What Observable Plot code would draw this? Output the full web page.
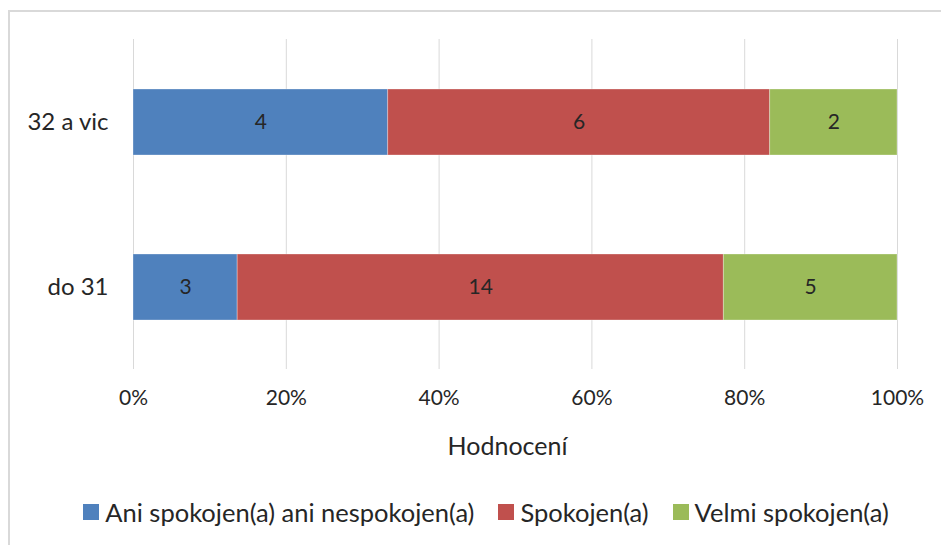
<!DOCTYPE html>
<html>
<head>
<meta charset="utf-8">
<script src="https://cdn.jsdelivr.net/npm/d3@7"></script>
<script src="https://cdn.jsdelivr.net/npm/@observablehq/plot@0.6"></script>
<style>
  html, body { margin: 0; padding: 0; background: #fff; overflow: hidden; }
  #wrap { position: relative; width: 941px; height: 545px; font-family: "Lato", sans-serif; color: #262626; }
  #border { position: absolute; left: 8px; top: 10px; width: 1000px; height: 600px; border-left: 2px solid #d9d9d9; border-top: 2px solid #d9d9d9; }
  #chart { position: absolute; left: 0; top: 0; }
  #legend { position: absolute; left: 0; top: 497px; width: 972px; height: 30px; display: flex; justify-content: center; align-items: center; font-size: 25.5px; white-space: nowrap; }
  .item { display: flex; align-items: center; margin: 0 12px; }
  .sw { width: 16px; height: 16px; margin-right: 6px; }
</style>
</head>
<body>
<div id="wrap">
  <div id="border"></div>
  <div id="chart"></div>
  <div id="legend"></div>
</div>
<script>
const groups = ["32 a vic", "do 31"];
const series = ["Ani spokojen(a) ani nespokojen(a)", "Spokojen(a)", "Velmi spokojen(a)"];
const valuesAni = [4, 3];
const valuesSpokojen = [6, 14];
const valuesVelmi = [2, 5];
const colors = ["#4F81BD", "#C0504D", "#9BBB59"];
const xTicks = [0, 0.2, 0.4, 0.6, 0.8, 1];
const xTickLabels = ["0%", "20%", "40%", "60%", "80%", "100%"];
const xTitle = "Hodnocení";

const seriesValues = [valuesAni, valuesSpokojen, valuesVelmi];
const data = [];
groups.forEach((g, gi) => {
  series.forEach((s, si) => {
    data.push({group: g, series: s, value: seriesValues[si][gi]});
  });
});

const textColor = "#262626";

const chart = Plot.plot({
  width: 941,
  height: 480,
  marginLeft: 133,
  marginRight: 44,
  marginTop: 39,
  marginBottom: 111,
  style: {fontFamily: "Lato, sans-serif", color: textColor, background: "transparent"},
  x: {domain: [0, 1]},
  y: {domain: groups, paddingInner: 0.6, paddingOuter: 0.3, align: 0.5},
  color: {domain: series, range: colors},
  marks: [
    Plot.gridX(xTicks, {stroke: "#d9d9d9", strokeOpacity: 1, strokeWidth: 1}),
    Plot.barX(data, Plot.stackX({
      x: "value", y: "group", fill: "series", order: series, offset: "normalize",
      stroke: "white", strokeOpacity: 0.3, strokeWidth: 1
    })),
    Plot.text(data, Plot.stackX({
      x: "value", y: "group", z: "series", order: series, offset: "normalize",
      text: "value", fontSize: 21, fill: textColor
    })),
    Plot.axisX({
      ticks: xTicks, tickSize: 0, tickPadding: 21, fontSize: 21,
      tickFormat: (d) => xTickLabels[xTicks.indexOf(d)], label: null
    }),
    Plot.axisY({tickSize: 0, tickPadding: 25, fontSize: 24, label: null}),
    Plot.text([xTitle], {frameAnchor: "bottom", dy: 85, dx: -8, fontSize: 25, fill: textColor, text: (d) => d})
  ]
});
document.getElementById("chart").appendChild(chart);

const legend = document.getElementById("legend");
series.forEach((s, i) => {
  const item = document.createElement("div");
  item.className = "item";
  const sw = document.createElement("div");
  sw.className = "sw";
  sw.style.background = colors[i];
  const lab = document.createElement("span");
  lab.textContent = s;
  item.appendChild(sw);
  item.appendChild(lab);
  legend.appendChild(item);
});
</script>
</body>
</html>
